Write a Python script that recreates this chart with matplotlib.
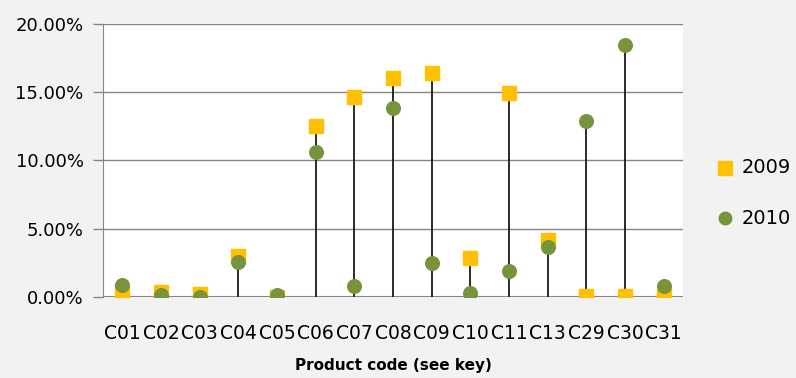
import numpy as np
import matplotlib.pyplot as plt
from matplotlib.lines import Line2D

codes = ['C01', 'C02', 'C03', 'C04', 'C05', 'C06', 'C07', 'C08',
         'C09', 'C10', 'C11', 'C13', 'C29', 'C30', 'C31']
share_2009 = [0.30, 0.40, 0.25, 3.00, 0.05, 12.55, 14.65, 16.00,
              16.40, 2.85, 14.90, 4.20, 0.10, 0.10, 0.10]   # percent
share_2010 = [0.90, 0.15, 0.05, 2.60, 0.20, 10.60, 0.85, 13.85,
              2.55, 0.30, 1.90, 3.70, 12.85, 18.40, 0.85]   # percent
yticks = [0, 5, 10, 15, 20]
years = ['2009', '2010']

bg = '#f2f2f2'
grid = '#868686'
c09 = '#ffc000'
c10 = '#77933c'

fig = plt.figure(figsize=(7.96, 3.78), dpi=100, facecolor=bg)
ax = fig.add_axes([0.1294, 0.213, 0.7286, 0.7248])
ax.set_facecolor('white')

x = np.arange(len(codes))
top = np.maximum(share_2009, share_2010)

# drop lines from the x axis up to the higher of the two years
ax.vlines(x, 0, top, color='#1a1a1a', lw=1.3, zorder=2)
ax.plot(x, share_2009, ls='none', marker='s', ms=9.8, color=c09, zorder=3)
ax.plot(x, share_2010, ls='none', marker='o', ms=9.8, color=c10, zorder=4)

ax.set_xlim(-0.5, len(codes) - 0.5)
ax.set_ylim(0, 20)
ax.set_yticks(yticks)
ax.set_yticklabels(['%.2f%%' % v for v in yticks], fontsize=13)
ax.set_xticks(x)
ax.set_xticklabels(codes, fontsize=13.5)
ax.tick_params(axis='x', length=0, pad=19)
ax.tick_params(axis='y', length=7, color=grid, width=1, pad=7)
ax.grid(axis='y', color=grid, lw=1)
ax.set_axisbelow(True)
for s in ['top', 'right', 'bottom']:
    ax.spines[s].set_visible(False)
ax.spines['left'].set_color(grid)
ax.axhline(0, color=grid, lw=1.5, zorder=1)

ax.set_xlabel('Product code (see key)', fontsize=11, fontweight='bold', labelpad=11)

# legend drawn by hand at the right of the figure
leg_y = [0.556, 0.423]
fig.add_artist(Line2D([0.911], [leg_y[0]], ls='none', marker='s', ms=10, color=c09))
fig.add_artist(Line2D([0.911], [leg_y[1]], ls='none', marker='o', ms=9, color=c10))
for yy, lab in zip(leg_y, years):
    fig.text(0.932, yy, lab, fontsize=14, va='center', ha='left')

fig.savefig('out.png', dpi=100, facecolor=bg)
